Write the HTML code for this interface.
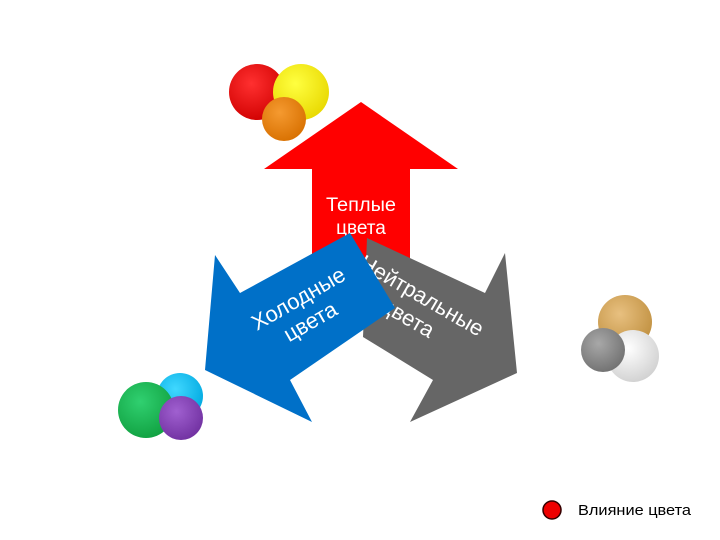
<!DOCTYPE html>
<html><head><meta charset="utf-8"><style>
html,body{margin:0;padding:0;background:#fff;}
svg{display:block;}
text{font-family:"Liberation Sans",sans-serif;}
</style></head><body>
<svg width="720" height="540" viewBox="0 0 720 540" xmlns="http://www.w3.org/2000/svg">
<defs>
<radialGradient id="gr" cx="0.4" cy="0.35" r="0.7"><stop offset="0" stop-color="#ff3030"/><stop offset="1" stop-color="#d00000"/></radialGradient>
<radialGradient id="gy" cx="0.4" cy="0.35" r="0.7"><stop offset="0" stop-color="#ffff40"/><stop offset="1" stop-color="#e8d800"/></radialGradient>
<radialGradient id="go" cx="0.4" cy="0.35" r="0.7"><stop offset="0" stop-color="#f59a30"/><stop offset="1" stop-color="#d87000"/></radialGradient>
<radialGradient id="gc" cx="0.4" cy="0.35" r="0.7"><stop offset="0" stop-color="#40d8ff"/><stop offset="1" stop-color="#00a8e0"/></radialGradient>
<radialGradient id="gg" cx="0.4" cy="0.35" r="0.7"><stop offset="0" stop-color="#30d070"/><stop offset="1" stop-color="#10a040"/></radialGradient>
<radialGradient id="gp" cx="0.4" cy="0.35" r="0.7"><stop offset="0" stop-color="#a060d0"/><stop offset="1" stop-color="#7030a0"/></radialGradient>
<radialGradient id="gt" cx="0.4" cy="0.35" r="0.7"><stop offset="0" stop-color="#e8c080"/><stop offset="1" stop-color="#c09040"/></radialGradient>
<radialGradient id="gm" cx="0.4" cy="0.35" r="0.7"><stop offset="0" stop-color="#a8a8a8"/><stop offset="1" stop-color="#707070"/></radialGradient>
<radialGradient id="gw" cx="0.4" cy="0.35" r="0.7"><stop offset="0" stop-color="#ffffff"/><stop offset="1" stop-color="#d0d0d0"/></radialGradient>
</defs>
<circle cx="257" cy="92" r="28" fill="url(#gr)"/>
<circle cx="301" cy="92" r="28" fill="url(#gy)"/>
<circle cx="284" cy="119" r="22" fill="url(#go)"/>
<polygon points="361,102 458,169 410,169 410,270 312,270 312,169 264,169" fill="#ff0000"/>
<text x="361" y="211" font-size="19" fill="#fff" text-anchor="middle" textLength="70" lengthAdjust="spacingAndGlyphs">Теплые</text>
<text x="361" y="234" font-size="19" fill="#fff" text-anchor="middle">цвета</text>
<polygon points="367,238 485,293 505,253 517,373 410,422 433,380 363,337" fill="#666666"/>
<text transform="translate(418,302) rotate(30)" font-size="22" fill="#fff" text-anchor="middle">Нейтральные</text>
<text transform="translate(404,324) rotate(30)" font-size="22" fill="#fff" text-anchor="middle">цвета</text>
<polygon points="350,233 395,308 290,380 312,422 205,370 215,255 240,293" fill="#0070c8"/>
<text transform="translate(302,305) rotate(-30)" font-size="22" fill="#fff" text-anchor="middle">Холодные</text>
<text transform="translate(314,328) rotate(-30)" font-size="22" fill="#fff" text-anchor="middle">цвета</text>
<circle cx="180" cy="396" r="23" fill="url(#gc)"/>
<circle cx="146" cy="410" r="28" fill="url(#gg)"/>
<circle cx="181" cy="418" r="22" fill="url(#gp)"/>
<circle cx="625" cy="322" r="27" fill="url(#gt)"/>
<circle cx="633" cy="356" r="26" fill="url(#gw)"/>
<circle cx="603" cy="350" r="22" fill="url(#gm)"/>
<circle cx="552" cy="510" r="9" fill="#ee0000" stroke="#300" stroke-width="1.5"/>
<text x="578" y="515" font-size="15" fill="#000" textLength="113" lengthAdjust="spacingAndGlyphs">Влияние цвета</text>
</svg>
</body></html>
